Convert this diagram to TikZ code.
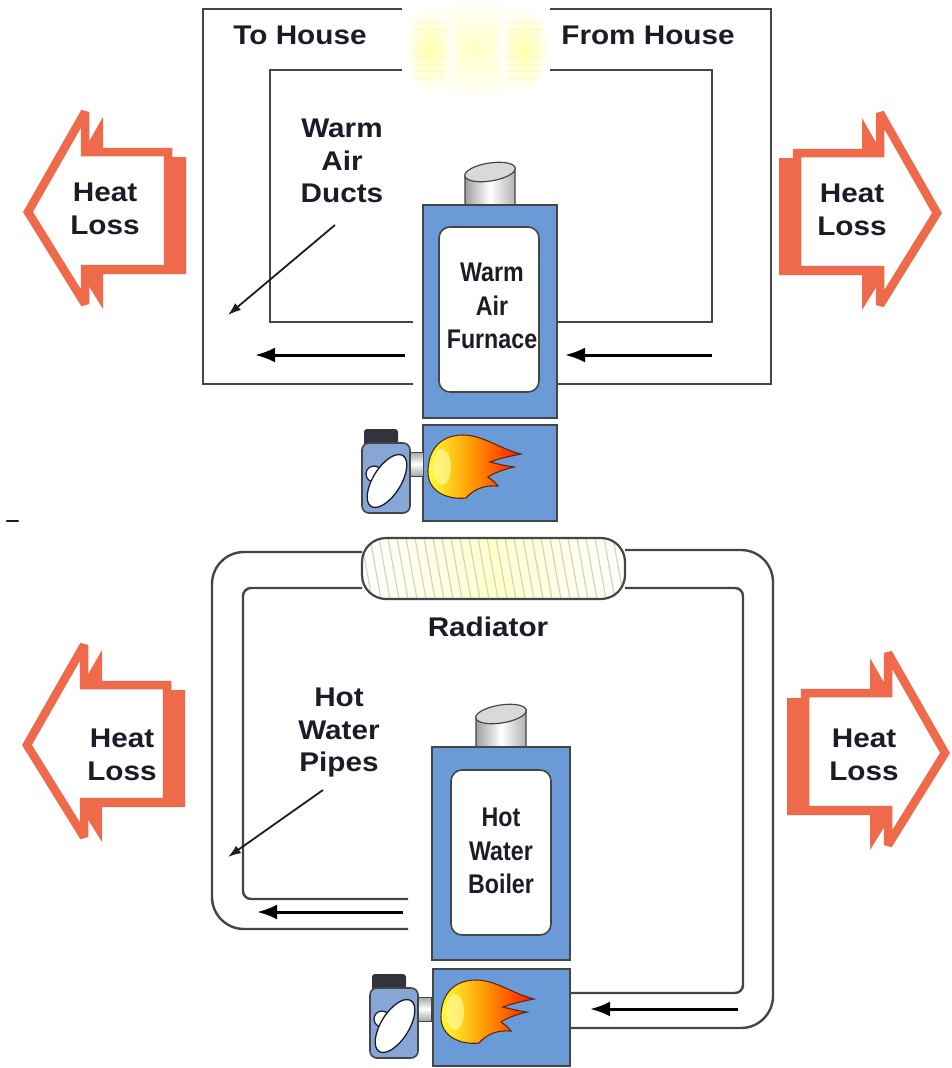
\documentclass[tikz,border=0pt]{standalone}
\usepackage{fontspec}
\setmainfont{Liberation Sans}[FakeStretch=1.1]
\newfontfamily\boxfont{Liberation Sans}[FakeStretch=0.86]
\usetikzlibrary{arrows.meta}

\definecolor{heat}{HTML}{EF6A4A}
\definecolor{furnblue}{HTML}{6B9BD7}
\definecolor{burnblue}{HTML}{86A6D6}
\definecolor{edge}{HTML}{454545}
\definecolor{ink}{HTML}{1C1C28}
\definecolor{flameedge}{HTML}{5A2A10}

\tikzset{
  duct/.style={draw=edge, line width=2.4pt},
  flow/.style={draw=black, line width=3pt, -{Latex[length=20pt,width=15pt]}},
  leader/.style={draw=ink, line width=1.8pt, -{Latex[length=13pt,width=9pt]}},
  lbl/.style={font=\fontsize{27}{32.5}\selectfont\bfseries, text=ink, align=center, inner sep=0pt},
  boxlbl/.style={font=\boxfont\fontsize{27}{33.5}\selectfont\bfseries, text=ink, align=center, inner sep=0pt},
  unit/.style={fill=furnblue, draw=edge, line width=1.6pt},
  window/.style={fill=white, draw=edge, line width=1.6pt, rounded corners=11pt},
  heatshape/.style={insert path={(0,0) -- (57,-100) -- (57,-60) -- (140,-60) -- (140,57) -- (57,57) -- (57,92) -- cycle}},
  pics/heatloss/.style={code={
    \fill[heat, shift={(18,5)}, heatshape];
    \draw[heat, fill=white, line width=8.5pt, line join=miter, miter limit=2.2, heatshape];
  }},
  pics/flame/.style={code={
    \draw[draw=flameedge, line width=1.1pt, left color=yellow!80!white, right color=red!85!orange, middle color=orange!85!yellow]
      (0,5) .. controls (0,-20) and (15,-32) .. (35,-32)
      .. controls (55,-32) and (72,-18) .. (93,-13)
      .. controls (78,-10) and (70,-8) .. (62,-5)
      .. controls (70,-3) and (78,-1) .. (86,0)
      .. controls (74,3) and (66,6) .. (60,10)
      .. controls (64,13) and (67,15) .. (70,19)
      .. controls (56,18) and (46,22) .. (38,31)
      .. controls (20,33) and (0,25) .. (0,5) -- cycle;
    \fill[yellow!40!white, opacity=0.7] (14,0) ellipse [x radius=9, y radius=18];
  }},
  pics/chimney/.style={code={
    \draw[edge, line width=1.2pt, left color=gray!75, right color=gray!60, middle color=white]
      (-25,0) -- (-25,-30) -- (25,-38) -- (25,0) -- cycle;
    \draw[edge, line width=1.2pt, fill=gray!30] (0,-34) ellipse [x radius=25.5, y radius=9, rotate=9];
  }},
  pics/burner/.style={code={
    \fill[ink!90, rounded corners=3pt] (2,-14) rectangle (36,3);
    \draw[edge, line width=0.8pt, top color=gray!70, bottom color=gray!70, middle color=white] (48,9) rectangle (61,33);
    \draw[fill=burnblue, draw=edge, line width=1.6pt, rounded corners=7pt] (0,0) rectangle (48,70);
    \draw[fill=white, draw=ink, line width=1.2pt] (12,31) circle [radius=8];
    \draw[fill=white, draw=ink, line width=1.3pt] (25,38) ellipse [x radius=30, y radius=14, rotate=58];
  }}
}

\begin{document}
\begin{tikzpicture}[x=1pt,y=-1pt]
\useasboundingbox[fill=white] (0,0) rectangle (951,1068);

% ---------------- warm air system ----------------
% warm glow where the ducts reach the rooms
\shade[inner color=yellow!22!white, outer color=white] (476,48) ellipse [x radius=74, y radius=52];
\shade[inner color=yellow!32!white, outer color=white] (430,50) ellipse [x radius=26, y radius=44];
\shade[inner color=yellow!32!white, outer color=white] (524,50) ellipse [x radius=26, y radius=44];
\foreach \yy in {22,29,...,80} {
  \draw[yellow!30!white, line width=0.7pt] (414,\yy) -- (446,\yy);
  \draw[yellow!30!white, line width=0.7pt] (506,\yy) -- (542,\yy);
}

% duct loop
\draw[duct] (402,9) -- (203,9) -- (203,384) -- (413,384);
\draw[duct] (402,70) -- (270,70) -- (270,322) -- (413,322);
\draw[duct] (550,9) -- (771,9) -- (771,384) -- (557,384);
\draw[duct] (550,70) -- (712,70) -- (712,322) -- (557,322);

% furnace
\pic at (490,206) {chimney};
\draw[unit] (423,205) rectangle (557,418);
\draw[window] (439,227) rectangle (539,392);
\draw[unit] (423,425) rectangle (557,521);
\pic at (362,443) {burner};
\pic at (428,467) {flame};

% air flow
\coordinate (furnInL) at (405,355);
\coordinate (ductOutL) at (255,355);
\coordinate (ductInR) at (712,355);
\coordinate (furnInR) at (565,355);
\draw[flow] (furnInL) -- (ductOutL);
\draw[flow] (ductInR) -- (furnInR);

% heat loss
\pic at (28,212) {heatloss};
\pic[xscale=-1] at (937,213) {heatloss};
\node[lbl] (hlA) at (105,209) {Heat\\Loss};
\node[lbl] (hlB) at (852,210) {Heat\\Loss};

% labels
\node[lbl] (toHouse) at (300,35) {To House};
\node[lbl] (fromHouse) at (648,35) {From House};
\node[lbl] (ducts) at (342,161) {Warm\\Air\\Ducts};
\node[boxlbl] (furnace) at (492,306) {Warm\\Air\\Furnace};
\coordinate (ductsTail) at (335,225);
\coordinate (ductsTip) at (228,315);
\draw[leader] (ductsTail) -- (ductsTip);

\draw[ink, line width=2.6pt, line cap=round] (7,521) -- (18,521);

% ---------------- hot water system ----------------
% radiator
\begin{scope}
  \clip[rounded corners=24pt] (362,538) rectangle (625,599);
  \fill[left color=white, right color=white, middle color=yellow!22!white] (362,538) rectangle (625,599);
  \foreach \xx in {352,361,...,628}
    \draw[gray!35, line width=1.2pt] (\xx,538) -- (\xx+11,599);
\end{scope}
\draw[edge, line width=2.2pt, rounded corners=24pt] (362,538) rectangle (625,599);
\node[lbl] (radiator) at (488,627) {Radiator};

% pipe loop
\draw[duct, rounded corners=32pt] (362,552) -- (212,552) -- (212,929) -- (408,929);
\draw[duct, rounded corners=8pt] (362,588) -- (243,588) -- (243,899) -- (408,899);
\draw[duct, rounded corners=32pt] (625,550) -- (773,550) -- (773,1028) -- (570,1028);
\draw[duct, rounded corners=8pt] (625,588) -- (743,588) -- (743,993) -- (570,993);

% boiler
\pic at (501,748) {chimney};
\draw[unit] (432,747) rectangle (570,960);
\draw[window] (451,770) rectangle (551,935);
\draw[unit] (433,969) rectangle (570,1066);
\pic at (370,988) {burner};
\pic at (441,1012) {flame};

% water flow
\coordinate (boilOut) at (403,912);
\coordinate (pipeOut) at (257,912);
\coordinate (pipeIn) at (738,1009);
\coordinate (boilIn) at (590,1009);
\draw[flow] (boilOut) -- (pipeOut);
\draw[flow] (pipeIn) -- (boilIn);

% heat loss
\pic at (27,745) {heatloss};
\pic[xscale=-1] at (945,753) {heatloss};
\node[lbl] (hlC) at (122,755) {Heat\\Loss};
\node[lbl] (hlD) at (864,755) {Heat\\Loss};

% labels
\node[lbl] (pipes) at (339,733) {Hot\\Water\\Pipes};
\node[boxlbl] (boiler) at (501,851) {Hot\\Water\\Boiler};
\coordinate (pipesTail) at (323,790);
\coordinate (pipesTip) at (228,857);
\draw[leader] (pipesTail) -- (pipesTip);
\end{tikzpicture}
\end{document}
